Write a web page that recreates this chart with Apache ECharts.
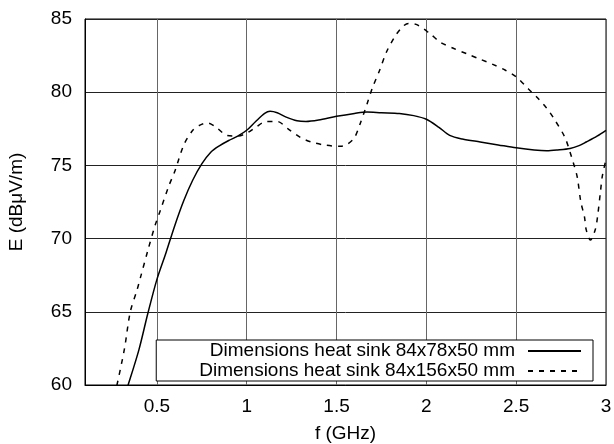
<!DOCTYPE html>
<html>
<head>
<meta charset="utf-8">
<script src="https://cdn.jsdelivr.net/npm/echarts@6/dist/echarts.min.js"></script>
<style>html,body{margin:0;padding:0;background:#fff}#c{width:614px;height:444px}</style>
</head>
<body>
<div id="c"></div>
<script>
var seriesNames = ['Dimensions heat sink 84x78x50 mm', 'Dimensions heat sink 84x156x50 mm'];
var xTicks = [0.5, 1, 1.5, 2, 2.5, 3];
var yTicks = [60, 65, 70, 75, 80, 85];

// [f (GHz), E (dBuV/m)]
var sink78 = [
  [0.30, 58.5], [0.34, 60.0], [0.40, 62.4], [0.45, 64.9], [0.50, 67.2], [0.55, 69.0],
  [0.60, 70.9], [0.65, 72.6], [0.70, 74.0], [0.75, 75.1], [0.80, 75.9], [0.85, 76.35],
  [0.90, 76.7], [0.95, 77.0], [1.00, 77.4], [1.05, 78.0], [1.10, 78.55], [1.13, 78.7],
  [1.17, 78.6], [1.22, 78.3], [1.28, 78.05], [1.33, 78.0], [1.40, 78.1], [1.50, 78.35],
  [1.60, 78.55], [1.67, 78.65], [1.75, 78.6], [1.85, 78.55], [1.93, 78.4], [2.00, 78.15],
  [2.07, 77.6], [2.13, 77.05], [2.20, 76.8], [2.30, 76.6], [2.40, 76.4], [2.50, 76.2],
  [2.60, 76.05], [2.67, 76.0], [2.73, 76.05], [2.80, 76.15], [2.85, 76.35], [2.89, 76.6],
  [2.95, 77.0], [3.00, 77.4]
];
var sink156 = [
  [0.25, 58.5], [0.278, 60.0], [0.32, 62.5], [0.352, 65.0], [0.39, 66.5], [0.41, 67.4],
  [0.45, 69.2], [0.49, 70.9], [0.52, 71.95], [0.565, 73.55], [0.60, 74.6], [0.65, 76.4],
  [0.70, 77.4], [0.74, 77.75], [0.78, 77.9], [0.83, 77.6], [0.89, 77.05], [0.95, 77.0],
  [1.00, 77.2], [1.05, 77.6], [1.11, 78.0], [1.17, 78.0], [1.23, 77.5], [1.30, 76.9],
  [1.36, 76.6], [1.43, 76.4], [1.52, 76.3], [1.56, 76.45], [1.60, 76.9], [1.63, 77.8],
  [1.67, 79.2], [1.70, 80.3], [1.74, 81.5], [1.78, 82.8], [1.83, 83.9], [1.87, 84.5],
  [1.90, 84.7], [1.95, 84.6], [2.02, 84.0], [2.08, 83.4], [2.15, 83.0], [2.23, 82.6],
  [2.30, 82.25], [2.37, 81.9], [2.44, 81.5], [2.50, 81.05], [2.57, 80.2], [2.62, 79.6],
  [2.67, 78.9], [2.71, 78.2], [2.77, 76.95], [2.80, 75.9], [2.82, 75.1], [2.84, 74.2],
  [2.86, 72.5], [2.88, 71.5], [2.89, 70.6], [2.913, 69.9], [2.94, 70.6], [2.953, 71.5],
  [2.97, 73.3], [2.98, 74.3], [3.00, 75.4]
];

var FONT = '"Liberation Sans", Arial, Helvetica, sans-serif';
var chart = echarts.init(document.getElementById('c'), null, {renderer: 'canvas'});
chart.setOption({
  animation: false,
  backgroundColor: '#fff',
  grid: {left: 85, right: 8, top: 19, bottom: 59, show: true, borderColor: '#000', borderWidth: 1,
    backgroundColor: 'transparent', containLabel: false, outerBoundsMode: 'none'},
  xAxis: {
    type: 'value', min: 0.1, max: 3,
    name: 'f (GHz)', nameLocation: 'middle', nameGap: 39,
    nameTextStyle: {fontFamily: FONT, fontSize: 19, color: '#000'},
    axisLine: {show: true, onZero: false, lineStyle: {color: '#000', width: 1}},
    axisTick: {show: false, customValues: xTicks},
    axisLabel: {customValues: xTicks, fontFamily: FONT, fontSize: 19, color: '#000', margin: 12,
      formatter: function (v) { return String(v); }},
    splitLine: {show: true, lineStyle: {color: '#666', width: 1}}
  },
  yAxis: {
    type: 'value', min: 60, max: 85, interval: 5,
    name: 'E (dBμV/m)', nameLocation: 'middle', nameGap: 59,
    nameTextStyle: {fontFamily: FONT, fontSize: 19, color: '#000'},
    axisLine: {show: true, lineStyle: {color: '#000', width: 1}},
    axisTick: {show: false},
    axisLabel: {fontFamily: FONT, fontSize: 19, color: '#000', margin: 13,
      formatter: function (v) { return yTicks.indexOf(v) >= 0 ? String(v) : ''; }},
    splitLine: {show: true, lineStyle: {color: '#222', width: 1}}
  },
  legend: {
    orient: 'vertical', align: 'right', right: 21, top: 340,
    padding: [1, 11, 0, 43], itemGap: 0, itemWidth: 53, itemHeight: 14,
    backgroundColor: '#fff', borderColor: '#000', borderWidth: 1, borderRadius: 0,
    itemStyle: {opacity: 0},
    textStyle: {fontFamily: FONT, fontSize: 19, color: '#000', lineHeight: 20, padding: [0, 8, 0, 0]},
    data: seriesNames
  },
  series: [
    {name: seriesNames[0], type: 'line', data: sink78, symbol: 'none', smooth: 0.3, clip: true,
     lineStyle: {color: '#000', width: 1.5, type: 'solid'}, itemStyle: {color: '#000'}},
    {name: seriesNames[1], type: 'line', data: sink156, symbol: 'none', smooth: 0.3, clip: true,
     lineStyle: {color: '#000', width: 1.5, type: [5, 6]}, itemStyle: {color: '#000'}}
  ]
});
</script>
</body>
</html>
